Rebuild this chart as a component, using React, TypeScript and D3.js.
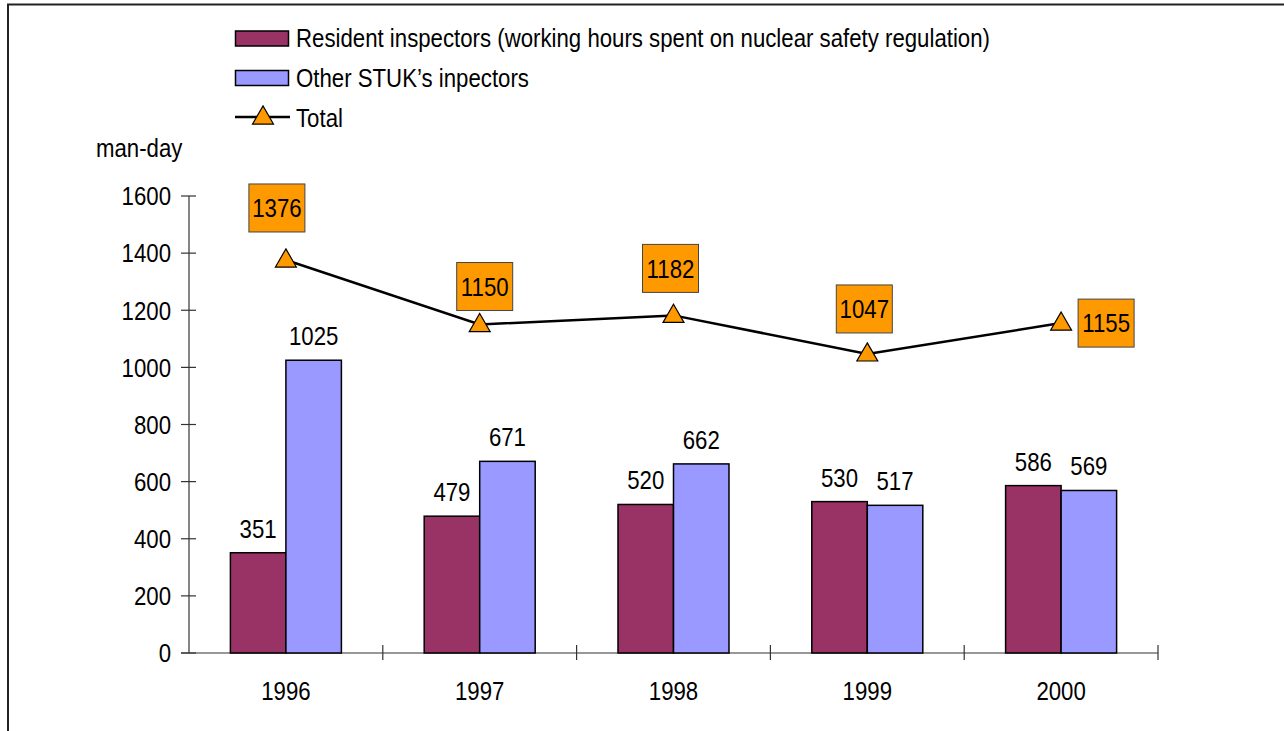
import { useMemo } from "react";
import type { ReactNode } from "react";
import { line, scaleBand, scaleLinear, symbol, symbolTriangle } from "d3";

const W = 1284;
const H = 731;
// no narrow font installed, so the regular sans is squeezed horizontally instead
const FONT = "'Liberation Sans', Arial, sans-serif";
const SQUEEZE = 0.855;

// data
const years = ["1996", "1997", "1998", "1999", "2000"];
const resident = [351, 479, 520, 530, 586];
const other = [1025, 671, 662, 517, 569];
const total = [1376, 1150, 1182, 1047, 1155];
const yTicks = [0, 200, 400, 600, 800, 1000, 1200, 1400, 1600];
const legendLabels = [
  "Resident inspectors (working hours spent on nuclear safety regulation)",
  "Other STUK\u2019s inpectors",
  "Total",
];

// where the orange total boxes sit relative to their point (hand placed in the original)
const totalBoxOffset: [number, number][] = [
  [-9, -52],
  [5, -38],
  [-3, -47],
  [-3, -45],
  [45, 0],
];

const C_RES = "#993366";
const C_OTH = "#9999ff";
const C_TOT = "#ff9900";

type TProps = { x: number; y: number; anchor?: "start" | "middle" | "end"; dy?: string; children: ReactNode };
const T = ({ x, y, anchor = "start", dy, children }: TProps) => (
  <text transform={`translate(${x},${y}) scale(${SQUEEZE},1)`} textAnchor={anchor} dy={dy} fill="#000">
    {children}
  </text>
);

export default function App() {
  const x = useMemo(() => scaleBand<string>().domain(years).range([189, 1158]).padding(0), []);
  const y = useMemo(() => scaleLinear().domain([0, 1600]).range([653, 196]), []);
  const inner = useMemo(
    () => scaleBand<string>().domain(["res", "oth"]).range([0, x.bandwidth()]).paddingInner(0).paddingOuter(0.746),
    [x]
  );
  const cx = (i: number) => (x(years[i]) ?? 0) + x.bandwidth() / 2;
  const path = line<number>()
    .x((_, i) => cx(i))
    .y((d) => y(d));
  const tri = symbol().type(symbolTriangle).size(190)() ?? "";

  const bars = [
    { key: "res", vals: resident, fill: C_RES },
    { key: "oth", vals: other, fill: C_OTH },
  ];

  return (
    <svg
      width={W}
      height={H}
      style={{ position: "absolute", left: 0, top: 0, background: "#fff" }}
      fontFamily={FONT}
      fontSize={26}
    >
      <rect x={8} y={4.5} width={W + 20} height={H + 20} fill="none" stroke="#222" strokeWidth={2} />

      {/* legend */}
      <g>
        <rect x={235.5} y={31} width={53} height={15} fill={C_RES} stroke="#000" strokeWidth={1.5} />
        <rect x={235.5} y={70.5} width={53} height={15} fill={C_OTH} stroke="#000" strokeWidth={1.5} />
        <line x1={235} x2={290} y1={117} y2={117} stroke="#000" strokeWidth={2.5} />
        <path d={tri} transform="translate(263,118)" fill={C_TOT} stroke="#000" strokeWidth={1.2} />
        {legendLabels.map((t, i) => (
          <T key={t} x={296} y={47 + i * 40}>
            {t}
          </T>
        ))}
      </g>

      <T x={96} y={157}>man-day</T>

      {/* y axis */}
      <line x1={189} x2={189} y1={y(1600)} y2={y(0)} stroke="#333" strokeWidth={1.2} />
      {yTicks.map((t) => (
        <g key={t}>
          <line x1={181} x2={196} y1={y(t)} y2={y(t)} stroke="#333" strokeWidth={1.2} />
          <T x={171} y={y(t)} dy="0.36em" anchor="end">
            {t}
          </T>
        </g>
      ))}

      {/* x axis */}
      <line x1={181} x2={1158} y1={y(0)} y2={y(0)} stroke="#333" strokeWidth={1.2} />
      {years.map((yr, i) => (
        <g key={yr}>
          <line
            x1={(x(yr) ?? 0) + x.bandwidth()}
            x2={(x(yr) ?? 0) + x.bandwidth()}
            y1={y(0) - 8}
            y2={y(0) + 7}
            stroke="#333"
            strokeWidth={1.2}
          />
          <T x={cx(i)} y={700} anchor="middle">
            {yr}
          </T>
        </g>
      ))}

      {/* bars */}
      {bars.map((b) =>
        b.vals.map((v, i) => {
          const bx = (x(years[i]) ?? 0) + (inner(b.key) ?? 0);
          return (
            <g key={b.key + i}>
              <rect
                x={bx}
                y={y(v)}
                width={inner.bandwidth()}
                height={y(0) - y(v)}
                fill={b.fill}
                stroke="#000"
                strokeWidth={1.5}
              />
              <T x={bx + inner.bandwidth() / 2} y={y(v) - 15} anchor="middle">
                {v}
              </T>
            </g>
          );
        })
      )}

      {/* total line */}
      <path d={path(total) ?? undefined} fill="none" stroke="#000" strokeWidth={2.5} />
      {total.map((v, i) => (
        <path key={i} d={tri} transform={`translate(${cx(i)},${y(v) + 1})`} fill={C_TOT} stroke="#000" strokeWidth={1.2} />
      ))}
      {total.map((v, i) => {
        const bx = cx(i) + totalBoxOffset[i][0];
        const by = y(v) + totalBoxOffset[i][1];
        return (
          <g key={"lbl" + i}>
            <rect x={bx - 28} y={by - 24} width={56} height={48} fill={C_TOT} stroke="#444" strokeWidth={1} />
            <T x={bx} y={by} dy="0.36em" anchor="middle">
              {v}
            </T>
          </g>
        );
      })}
    </svg>
  );
}
